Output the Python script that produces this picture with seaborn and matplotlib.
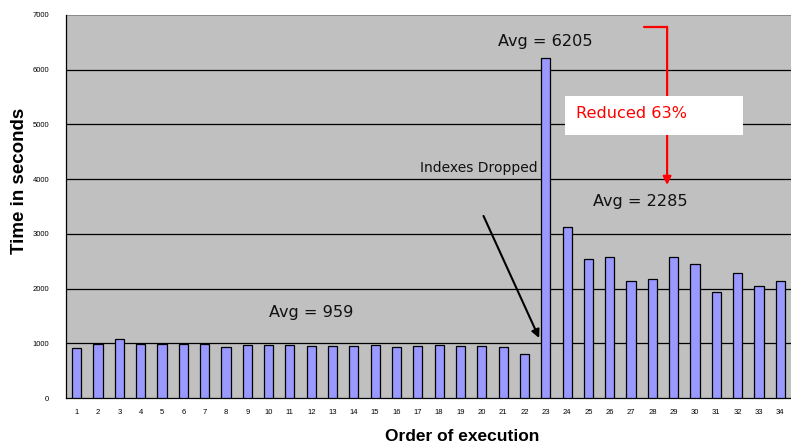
import matplotlib
matplotlib.use("Agg")
import matplotlib.pyplot as plt
import matplotlib.patches as mpatches
import seaborn as sns
import pandas as pd
import numpy as np

orders = [str(i) for i in range(1, 35)]
times = [920, 981, 1086, 994, 981, 981, 981, 938, 963, 963, 963, 957, 957, 957,
         963, 939, 957, 976, 957, 957, 939, 811, 6205, 3128, 2543, 2573, 2134,
         2171, 2585, 2445, 1939, 2280, 2055, 2146]
yticks = [0, 1000, 2000, 3000, 4000, 5000, 6000, 7000]

df = pd.DataFrame({"order": orders, "time": times})

sns.set_theme(style="white")
plt.rcParams['font.family'] = ['DejaVu Sans']
plt.rcParams['text.color'] = 'black'
plt.rcParams['axes.labelcolor'] = 'black'
plt.rcParams['xtick.color'] = 'black'
plt.rcParams['ytick.color'] = 'black'

fig = plt.figure(figsize=(7.91, 4.48), dpi=100)
ax = fig.add_axes([66/791, 50/448, (791-66)/791, 383/448])
ax.set_facecolor("#C0C0C0")

sns.barplot(data=df, x="order", y="time", color="#9999FF", saturation=1,
            edgecolor="black", linewidth=0.9, width=0.43, ax=ax, zorder=3)

ax.set_ylim(0, 7000)
ax.set_xlim(-0.5, (791-66)/21.5 - 0.5)
ax.set_yticks(yticks)
ax.set_yticklabels([str(v) for v in yticks], fontsize=5.5, family="Liberation Sans")
ax.tick_params(axis="x", which="major", length=0, labelsize=5.5, pad=8)
for lab in ax.get_xticklabels():
    lab.set_family("Liberation Sans")
ax.set_xticks(np.arange(-0.5, len(orders), 1.0), minor=True)
ax.tick_params(axis="x", which="minor", length=3, width=0.8, color="black", direction="out")
ax.tick_params(axis="y", length=4, width=0.8, color="black", direction="out", pad=8)

for v in yticks[1:-1]:
    ax.axhline(v, color="black", linewidth=0.9, zorder=1)
ax.axhline(7000, color="#808080", linewidth=1.2, zorder=1)

for s in ["top", "right"]:
    ax.spines[s].set_visible(False)
ax.spines["left"].set_color("black")
ax.spines["left"].set_linewidth(0.9)
ax.spines["bottom"].set_color("black")
ax.spines["bottom"].set_linewidth(0.9)

ax.set_xlabel("Order of execution", fontsize=12.5, fontweight="bold",
              family="Liberation Sans", color="black")
ax.set_ylabel("Time in seconds", fontsize=13.5, fontweight="bold",
              family="Liberation Sans", color="black")
ax.xaxis.set_label_coords((462-66)/725, -0.08)
ax.yaxis.set_label_coords(-0.053, (398-181)/383)

# annotations
ax.text(11.0, 1554, "Avg = 959", fontsize=11.6, ha="center", va="center", color="#111111")
ax.text(22.0, 6508, "Avg = 6205", fontsize=11.6, ha="center", va="center", color="#111111")
ax.text(26.43, 3583, "Avg = 2285", fontsize=11.6, ha="center", va="center", color="#111111")
ax.text(18.85, 4205, "Indexes Dropped", fontsize=10, ha="center", va="center", color="#111111")

ax.annotate("", xy=(21.69, 1097), xytext=(19.08, 3327),
            arrowprops=dict(arrowstyle="-|>", color="black", lw=1.5,
                            mutation_scale=12, shrinkA=0, shrinkB=0), zorder=5)

# red bracket arrow
ax.plot([26.62, 27.69], [6782, 6782], color="red", lw=1.6, zorder=4)
ax.annotate("", xy=(27.69, 3894), xytext=(27.69, 6782),
            arrowprops=dict(arrowstyle="-|>", color="red", lw=1.6,
                            mutation_scale=12, shrinkA=0, shrinkB=0), zorder=4)

box = mpatches.Rectangle((22.9, 4808), 31.27 - 22.9, 5521 - 4808,
                         facecolor="white", edgecolor="none", zorder=6)
ax.add_patch(box)
ax.text(23.42, 5192, "Reduced 63%", fontsize=11.6, ha="left", va="center",
        color="red", zorder=7)

fig.savefig("out.png", dpi=100)
